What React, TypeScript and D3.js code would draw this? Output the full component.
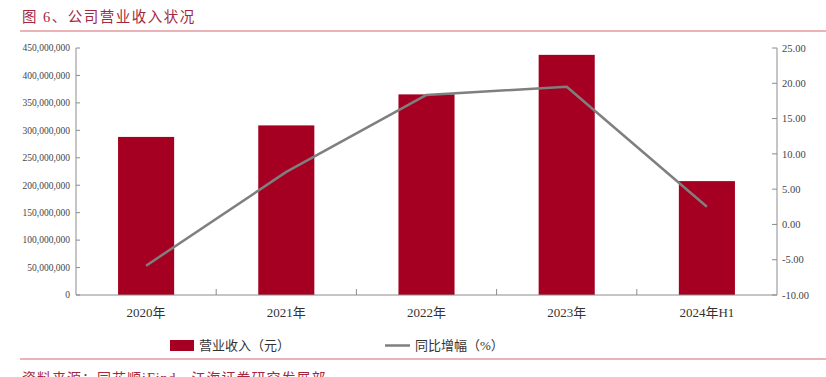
import React from "react";
import * as d3 from "d3";

const categories = ["2020年", "2021年", "2022年", "2023年", "2024年H1"];
const revenue = [288000000, 309000000, 365500000, 437500000, 207500000];
const growth = [-5.85, 7.45, 18.35, 19.5, 2.5];
const leftTicks = [0, 50000000, 100000000, 150000000, 200000000, 250000000, 300000000, 350000000, 400000000, 450000000];
const rightTicks = [-10, -5, 0, 5, 10, 15, 20, 25];

const W = 826, H = 377;
const L = 76, R = 777, T = 48, B = 295;
const FONT = "'Liberation Serif', 'Times New Roman', 'Noto Sans CJK SC', serif";
const BAR = "#a50021";
const AXIS = "#8c8c8c";
const RED = "#a3283e";

export default function App() {
  const x = d3.scaleBand<string>().domain(categories).range([L, R]).padding(0);
  const yL = d3.scaleLinear().domain([0, 450000000]).range([B, T]);
  const yR = d3.scaleLinear().domain([-10, 25]).range([B, T]);
  const fmt = d3.format(",");
  const bw = x.bandwidth() * 0.4;
  const line = d3
    .line<number>()
    .x((_, i) => (x(categories[i]) as number) + x.bandwidth() / 2)
    .y((d) => yR(d));

  return (
    <svg width={W} height={H} style={{ position: "absolute", left: 0, top: 0, background: "#fff" }} fontFamily={FONT}>
      <text x={22} y={22} fontSize={14.5} fill={RED} letterSpacing={1.5}>图 6、公司营业收入状况</text>
      <line x1={20} x2={826} y1={31} y2={31} stroke="#e49a9c" strokeWidth={1.5} />

      {categories.map((c, i) => (
        <rect key={c} x={(x(c) as number) + (x.bandwidth() - bw) / 2} y={yL(revenue[i])} width={bw} height={B - yL(revenue[i])} fill={BAR} />
      ))}

      <path d={line(growth) || ""} fill="none" stroke="#7f7f7f" strokeWidth={2.5} strokeLinejoin="round" />

      {/* left axis */}
      <line x1={L} x2={L} y1={T} y2={B} stroke={AXIS} strokeWidth={1} />
      {leftTicks.map((t) => (
        <g key={t}>
          <line x1={L} x2={L + 4} y1={yL(t)} y2={yL(t)} stroke={AXIS} />
          <text x={70} y={yL(t)} dy="0.35em" textAnchor="end" fontSize={9.5} fill="#444">{fmt(t)}</text>
        </g>
      ))}

      {/* right axis */}
      <line x1={R} x2={R} y1={T} y2={B} stroke={AXIS} strokeWidth={1} />
      {rightTicks.map((t) => (
        <g key={t}>
          <line x1={R - 5} x2={R} y1={yR(t)} y2={yR(t)} stroke={AXIS} />
          <text x={782} y={yR(t)} dy="0.35em" textAnchor="start" fontSize={10.5} fill="#444">{t.toFixed(2)}</text>
        </g>
      ))}

      {/* bottom axis */}
      <line x1={L} x2={R} y1={B} y2={B} stroke={AXIS} strokeWidth={1} />
      {categories.slice(1).map((c) => (
        <line key={c} x1={x(c) as number} x2={x(c) as number} y1={B} y2={B - 6} stroke={AXIS} />
      ))}
      {categories.map((c) => (
        <text key={c} x={(x(c) as number) + x.bandwidth() / 2} y={317} textAnchor="middle" fontSize={13} fill="#333">{c}</text>
      ))}

      {/* legend */}
      <rect x={170} y={340} width={24} height={11} fill={BAR} />
      <text x={199} y={350} fontSize={13} fill="#333">营业收入（元）</text>
      <line x1={385} x2={410} y1={345.5} y2={345.5} stroke="#7f7f7f" strokeWidth={2.5} />
      <text x={415} y={350} fontSize={13} fill="#333">同比增幅（%）</text>

      <line x1={20} x2={826} y1={359} y2={359} stroke="#e49a9c" strokeWidth={1.5} />
      <text x={22} y={383} fontSize={14} fill={RED} letterSpacing={1}>资料来源：同花顺iFind，江海证券研究发展部</text>
    </svg>
  );
}
